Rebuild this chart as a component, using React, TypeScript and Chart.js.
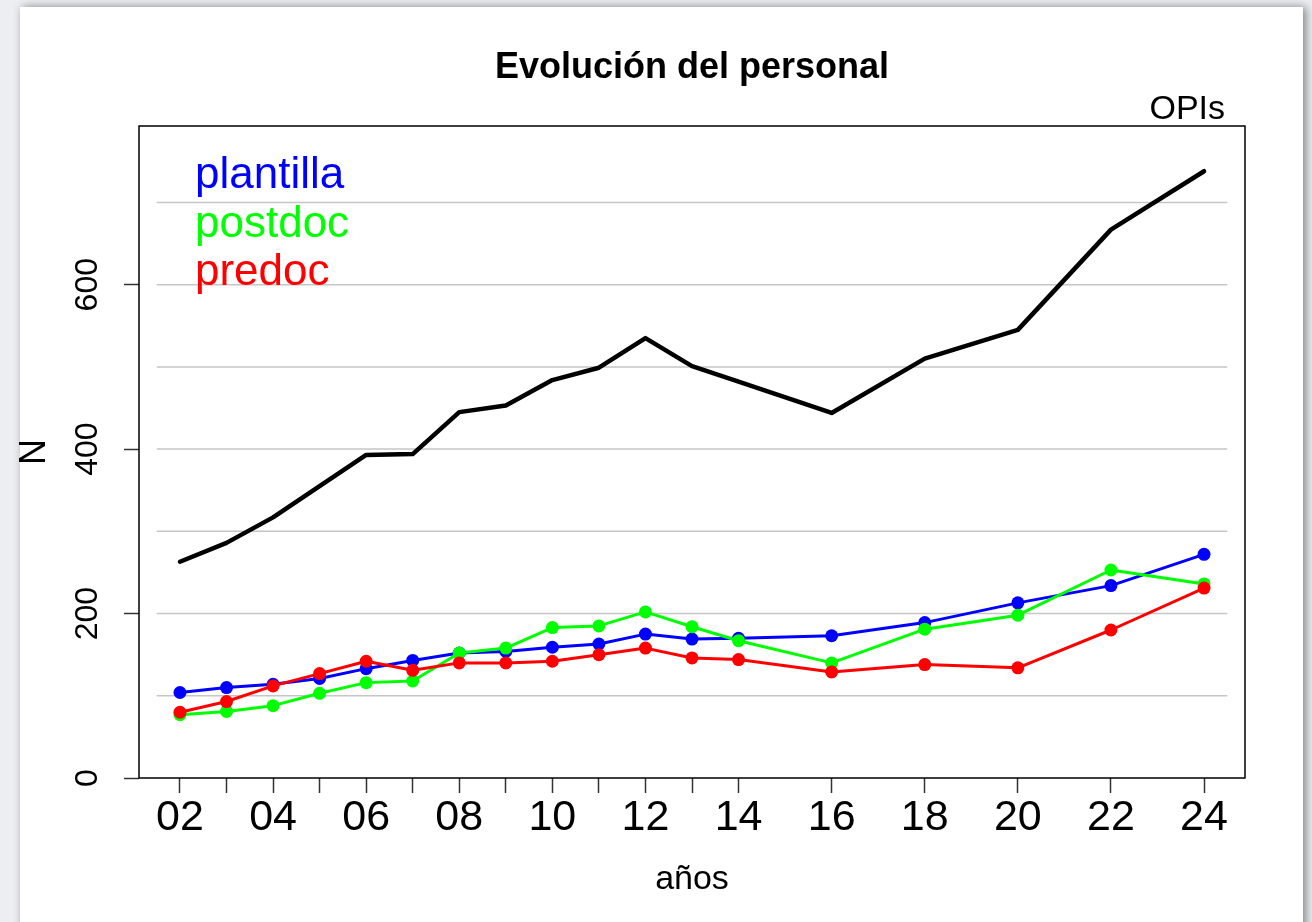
import React, { useEffect, useRef } from "react";
import { Chart, registerables } from "chart.js";

Chart.register(...registerables);

// ---- data ----
const years = [2, 3, 4, 5, 6, 7, 8, 9, 10, 11, 12, 13, 14, 16, 18, 20, 22, 24];
const opis = [263, 286, 317, 355, 393, 394, 445, 453, 484, 499, 535, 501, 482, 444, 510, 545, 667, 738];
const plantilla = [104, 110, 114, 121, 133, 143, 152, 154, 159, 163, 175, 169, 170, 173, 189, 213, 234, 272];
const postdoc = [77, 81, 88, 103, 116, 118, 152, 158, 183, 185, 202, 184, 167, 140, 181, 198, 253, 236];
const predoc = [80, 93, 112, 127, 142, 131, 140, 140, 142, 150, 158, 146, 144, 129, 138, 134, 180, 231];

const xTickValues = [2, 3, 4, 5, 6, 7, 8, 9, 10, 11, 12, 13, 14, 16, 18, 20, 22, 24];
const yTickValues = [0, 200, 400, 600];
const gridValues = [100, 200, 300, 400, 500, 600, 700];
const legendLabels = ["plantilla", "postdoc", "predoc"];
const legendColors = ["#0000ff", "#00ff00", "#ff0000"];

const FONT = "'Liberation Sans', Arial, Helvetica, sans-serif";

const decor = {
  id: "decor",
  beforeDatasetsDraw(chart: any) {
    const { ctx, scales } = chart;
    const x = scales.x;
    const y = scales.y;
    ctx.save();
    ctx.strokeStyle = "#c6c6c6";
    ctx.lineWidth = 1.5;
    const x0 = x.getPixelForValue(1.5);
    const x1 = x.getPixelForValue(24.5);
    for (const v of gridValues) {
      const py = y.getPixelForValue(v);
      ctx.beginPath();
      ctx.moveTo(x0, py);
      ctx.lineTo(x1, py);
      ctx.stroke();
    }
    ctx.restore();
  },
  afterDraw(chart: any) {
    const { ctx, chartArea } = chart;
    ctx.save();
    ctx.strokeStyle = "#000";
    ctx.lineWidth = 1.5;
    ctx.strokeRect(chartArea.left, chartArea.top, chartArea.right - chartArea.left, chartArea.bottom - chartArea.top);

    ctx.font = `44px ${FONT}`;
    ctx.textAlign = "left";
    ctx.textBaseline = "alphabetic";
    legendLabels.forEach((t, i) => {
      ctx.fillStyle = legendColors[i];
      ctx.fillText(t, chartArea.left + 56, chartArea.top + 62 + i * 48.5);
    });

    ctx.fillStyle = "#000";
    ctx.font = `34px ${FONT}`;
    ctx.textAlign = "right";
    ctx.fillText("OPIs", chartArea.right - 20, chartArea.top - 7);
    ctx.restore();
  },
};

function series(values: number[]) {
  return years.map((yr, i) => ({ x: yr, y: values[i] }));
}

export default function App() {
  const ref = useRef<HTMLCanvasElement>(null);

  useEffect(() => {
    const pt = (color: string, order: number, label: string, values: number[]) => ({
      label,
      data: series(values),
      borderColor: color,
      backgroundColor: color,
      borderWidth: 3,
      pointRadius: 6.5,
      pointBorderWidth: 0,
      pointBackgroundColor: color,
      borderJoinStyle: "round",
      borderCapStyle: "round",
      tension: 0,
      order,
    });

    const chart = new Chart(ref.current!, {
      type: "line",
      data: {
        datasets: [
          {
            label: "OPIs",
            data: series(opis),
            borderColor: "#000",
            backgroundColor: "#000",
            borderWidth: 4.5,
            pointRadius: 0,
            borderJoinStyle: "round",
            borderCapStyle: "round",
            tension: 0,
            order: 3,
          } as any,
          pt(legendColors[0], 2, "plantilla", plantilla) as any,
          pt(legendColors[1], 1, "postdoc", postdoc) as any,
          pt(legendColors[2], 0, "predoc", predoc) as any,
        ],
      },
      options: {
        responsive: false,
        devicePixelRatio: 1,
        animation: false,
        layout: { padding: { left: 0, right: 67, top: 0, bottom: 0 } },
        plugins: {
          legend: { display: false },
          tooltip: { enabled: false },
          title: {
            display: true,
            fullSize: false,
            text: "Evolución del personal",
            color: "#000",
            font: { family: FONT, size: 36, weight: "bold", lineHeight: 1.2 },
            padding: { top: 46.5, bottom: 36.3 },
          },
        },
        scales: {
          x: {
            type: "linear",
            min: 1.12,
            max: 24.88,
            afterBuildTicks: (s: any) => {
              s.ticks = xTickValues.map((v) => ({ value: v }));
            },
            afterFit: (s: any) => {
              s.height = 144;
            },
            ticks: {
              autoSkip: false,
              minRotation: 0,
              maxRotation: 0,
              padding: 4,
              color: "#000",
              font: { family: FONT, size: 43, lineHeight: 1 },
              callback: (v: any) => (Number(v) % 2 === 0 ? String(v).padStart(2, "0") : ""),
            },
            grid: {
              drawOnChartArea: false,
              drawTicks: true,
              tickLength: 15,
              tickColor: "#333",
              tickWidth: 1.5,
            },
            border: { display: false },
            title: {
              display: true,
              text: "años",
              color: "#000",
              font: { family: FONT, size: 34, lineHeight: 1.2 },
              padding: { top: 0, bottom: 22 },
            },
          },
          y: {
            type: "linear",
            min: 0,
            max: 793,
            afterBuildTicks: (s: any) => {
              s.ticks = yTickValues.map((v) => ({ value: v }));
            },
            afterFit: (s: any) => {
              s.width = 139;
            },
            ticks: {
              autoSkip: false,
              minRotation: 90,
              maxRotation: 90,
              crossAlign: "center",
              padding: 9,
              color: "#000",
              font: { family: FONT, size: 32, lineHeight: 1 },
            },
            grid: {
              drawOnChartArea: false,
              drawTicks: true,
              tickLength: 15,
              tickColor: "#333",
              tickWidth: 1.5,
            },
            border: { display: false },
            title: {
              display: true,
              text: "N",
              color: "#000",
              font: { family: FONT, size: 36, lineHeight: 1.2 },
              padding: { top: 13, bottom: 0 },
            },
          },
        },
      } as any,
      plugins: [decor],
    });
    return () => chart.destroy();
  }, []);

  return (
    <div style={{ position: "fixed", left: 0, top: 0, width: 1312, height: 922, background: "#edeef2", overflow: "hidden" }}>
      <div
        style={{
          position: "absolute",
          left: 20,
          top: 7,
          width: 1283,
          height: 1000,
          background: "#ffffff",
          boxShadow: "3px 0px 9px rgba(0,0,0,0.45)",
        }}
      />
      <canvas
        ref={ref}
        width={1312}
        height={922}
        style={{ position: "absolute", left: 0, top: 0, width: 1312, height: 922 }}
      />
    </div>
  );
}
